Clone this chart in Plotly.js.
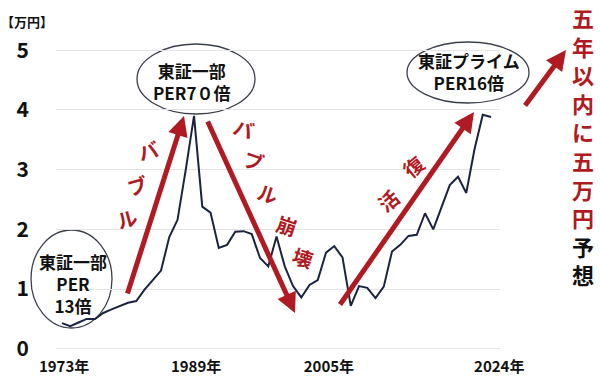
<!DOCTYPE html>
<html>
<head>
<meta charset="utf-8">
<script src="https://cdn.plot.ly/plotly-3.0.1.min.js"></script>
<style>html,body{margin:0;padding:0;background:#fff;}#chart{width:600px;height:379px;}</style>
</head>
<body>
<div id="chart"></div>
<script>
// ---- data (unit: 万円) ----
const years = [1973,1974,1975,1976,1977,1978,1979,1980,1981,1982,
               1983,1984,1985,1986,1987,1988,1989,1990,1991,1992,
               1993,1994,1995,1996,1997,1998,1999,2000,2001,2002,
               2003,2004,2005,2006,2007,2008,2009,2010,2011,2012,
               2013,2014,2015,2016,2017,2018,2019,2020,2021,2022,
               2023,2024,2025];
const values = [0.43,0.38,0.44,0.50,0.50,0.60,0.66,0.71,0.77,0.80,
                0.99,1.15,1.31,1.87,2.16,3.00,3.90,2.38,2.28,1.69,
                1.74,1.96,1.97,1.92,1.52,1.38,1.88,1.38,1.05,0.86,
                1.07,1.15,1.61,1.72,1.53,0.72,1.05,1.02,0.85,1.04,
                1.63,1.74,1.89,1.91,2.27,2.00,2.37,2.74,2.88,2.61,
                3.34,3.92,3.88];
const xTickLabels = ['1973年','1989年','2005年','2024年'];
const yTickValues = [0,1,2,3,4,5];
const yUnit = '【万円】';
const bubble1Lines = ['東証一部','PER','13倍'];
const bubble2Lines = ['東証一部','PER7０倍'];
const bubble3Lines = ['東証プライム','PER16倍'];
const labelBubble = ['バ','ブ','ル'];
const labelCollapse = ['バ','ブ','ル','崩','壊'];
const labelRecovery = ['復','活'];
const forecastRed = ['五','年','以','内','に','五','万','円'];
const forecastBlack = ['予','想'];

// ---- layout helpers ----
const W = 600, H = 379;
const M = {l:56, r:100, t:49, b:29};
const PW = W - M.l - M.r, PH = H - M.t - M.b;
const px = x => (x - M.l) / PW;
const py = y => (H - M.b - y) / PH;
const RED = '#b01a22';
const FONT = '"Noto Sans CJK JP", "Noto Sans", sans-serif';
const xTickPos = [1973.25, 1989.25, 2005.35, 2026.0];

const shapes = [];
const annotations = [];

function ellipse(x0, y0, x1, y1) {
  shapes.push({type:'circle', xref:'paper', yref:'paper',
    x0:px(x0), x1:px(x1), y0:py(y1), y1:py(y0),
    line:{color:'#3a3f4a', width:1.3}, fillcolor:'rgba(255,255,255,0)', layer:'below'});
}
function textBlock(lines, cx, cy, size) {
  annotations.push({xref:'paper', yref:'paper', x:px(cx), y:py(cy),
    text: lines.map(s => '<b>' + s + '</b>').join('<br>'), showarrow:false,
    xanchor:'center', yanchor:'middle',
    font:{family:FONT, size:size, color:'#111'}});
}
function arrow(tx, ty, sx, sy) {
  annotations.push({xref:'paper', yref:'paper', x:px(tx), y:py(ty),
    ax: sx - tx, ay: sy - ty, text:'', showarrow:true,
    arrowhead:2, arrowsize:0.8, arrowwidth:5, arrowcolor:RED, standoff:0, startstandoff:0});
}
function chars(list, pos, angle, size) {
  list.forEach((c, i) => {
    annotations.push({xref:'paper', yref:'paper', x:px(pos[i][0]), y:py(pos[i][1]),
      text:'<b>' + c + '</b>', showarrow:false, textangle:angle,
      xanchor:'center', yanchor:'middle',
      font:{family:FONT, size:size, color:RED}});
  });
}

// ellipses
ellipse(31, 230, 112, 328);
ellipse(137, 44, 255, 114);
ellipse(407, 42, 529, 103);
textBlock(bubble1Lines, 73, 283, 17);
textBlock(bubble2Lines, 191, 81, 17);
textBlock(bubble3Lines, 469, 71, 17);

// arrows
arrow(184, 116, 127, 295);
arrow(295, 313, 207, 120);
arrow(474, 112, 339, 306);
arrow(566, 50, 524, 107);

// red labels
chars(labelBubble, [[148,150],[137,185],[127,219]], -15, 20);
chars(labelCollapse, [[244,128],[254,160],[268,193],[287,225],[303,257]], 18, 20);
chars(labelRecovery, [[413,166],[388,200]], -40, 20);

// vertical forecast text
annotations.push({xref:'paper', yref:'paper', x:px(583), y:py(145),
  text: forecastRed.map(c => '<span style="color:' + RED + '"><b>' + c + '</b></span>').join('<br>') +
        '<br>' + forecastBlack.map(c => '<b>' + c + '</b>').join('<br>'),
  showarrow:false, xanchor:'center', yanchor:'middle',
  font:{family:FONT, size:22, color:'#111'}});

// unit label
annotations.push({xref:'paper', yref:'paper', x:px(0), y:py(22),
  text:'<b>' + yUnit + '</b>', showarrow:false, xanchor:'left', yanchor:'middle',
  borderpad:0, font:{family:FONT, size:13, color:'#111'}});

const trace = {x: years, y: values, type:'scatter', mode:'lines',
  line:{color:'#1b2340', width:2}, hoverinfo:'skip'};

const layout = {
  width:W, height:H, margin:M,
  paper_bgcolor:'#fff', plot_bgcolor:'#fff',
  showlegend:false,
  xaxis:{range:[1972.27, 2026.09], showgrid:false, zeroline:false, showline:false,
    tickmode:'array', tickvals:xTickPos, ticktext:xTickLabels, ticks:'',
    ticklabelstandoff:6,
    tickfont:{family:FONT, size:15, color:'#111', weight:'bold'}},
  yaxis:{range:[-0.02, 5.02], showgrid:true, gridcolor:'#e4e4e4', gridwidth:1,
    zeroline:false, showline:false, tickmode:'array', tickvals:yTickValues, ticks:'',
    ticklabelstandoff:26,
    tickfont:{family:FONT, size:21, color:'#111', weight:'bold'}},
  shapes: shapes,
  annotations: annotations
};

Plotly.newPlot('chart', [trace], layout, {displayModeBar:false, staticPlot:true});
</script>
</body>
</html>
